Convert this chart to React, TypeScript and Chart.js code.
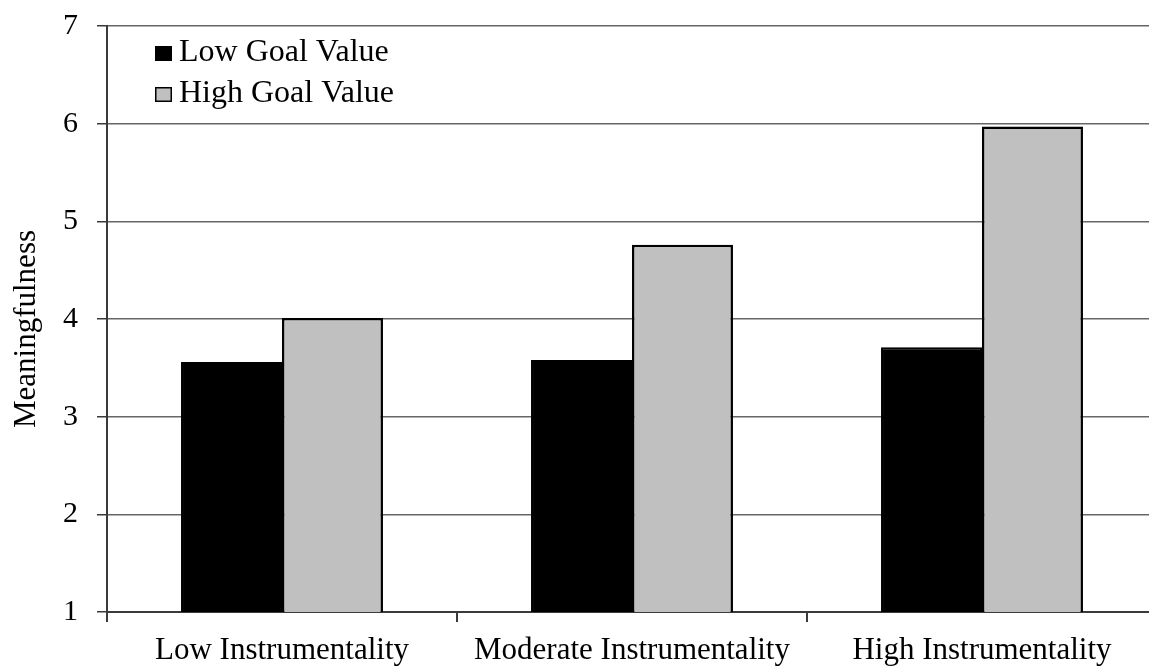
import React, { useEffect, useRef } from "react";
import { Chart, registerables } from "chart.js";

Chart.register(...registerables);

// Chart data
const categories = ["Low Instrumentality", "Moderate Instrumentality", "High Instrumentality"];
const seriesLabels = ["Low Goal Value", "High Goal Value"];
const lowGoalValue = [3.56, 3.58, 3.71];
const highGoalValue = [4.01, 4.76, 5.97];
const yMin = 1;
const yMax = 7;
const yStep = 1;
const yTitle = "Meaningfulness";

const FONT = "'Liberation Serif', 'Times New Roman', serif";
const CANVAS_W = 1180;
const CANVAS_H = 668;

// Legend drawn inside the plot area, top-left, stacked vertically
const insideLegend = {
  id: "insideLegend",
  afterDraw(chart: any) {
    const ctx = chart.ctx;
    const area = chart.chartArea;
    ctx.save();
    ctx.font = `32px ${FONT}`;
    ctx.textBaseline = "alphabetic";
    ctx.textAlign = "left";
    chart.data.datasets.forEach((ds: any, i: number) => {
      const baseline = area.top + 35 + i * 41;
      const bx = area.left + 48;
      const bw = 17;
      const bh = 15;
      ctx.fillStyle = ds.backgroundColor;
      ctx.fillRect(bx, baseline - bh, bw, bh);
      ctx.lineWidth = 1.5;
      ctx.strokeStyle = "#000";
      ctx.strokeRect(bx + 0.75, baseline - bh + 0.75, bw - 1.5, bh - 1.5);
      ctx.fillStyle = "#000";
      ctx.fillText(ds.label, bx + bw + 7, baseline);
    });
    ctx.restore();
  },
};

// Rotated y-axis title
const yAxisTitle = {
  id: "yAxisTitle",
  afterDraw(chart: any) {
    const ctx = chart.ctx;
    const area = chart.chartArea;
    ctx.save();
    ctx.font = `31px ${FONT}`;
    ctx.fillStyle = "#000";
    ctx.textAlign = "center";
    ctx.textBaseline = "middle";
    ctx.translate(26.5, (area.top + area.bottom) / 2 + 10);
    ctx.rotate(-Math.PI / 2);
    ctx.fillText(yTitle, 0, 0);
    ctx.restore();
  },
};

export default function App() {
  const canvasRef = useRef<HTMLCanvasElement | null>(null);

  useEffect(() => {
    if (!canvasRef.current) return;
    const chart = new Chart(canvasRef.current, {
      type: "bar",
      data: {
        labels: categories,
        datasets: [
          {
            label: seriesLabels[0],
            data: lowGoalValue,
            backgroundColor: "#000000",
            borderColor: "#000000",
            borderWidth: 2,
            borderSkipped: false,
          },
          {
            label: seriesLabels[1],
            data: highGoalValue,
            backgroundColor: "#c0c0c0",
            borderColor: "#000000",
            borderWidth: 2.5,
            borderSkipped: false,
          },
        ],
      },
      plugins: [insideLegend, yAxisTitle],
      options: {
        animation: false,
        responsive: false,
        maintainAspectRatio: false,
        layout: { padding: { left: 0, top: 26, right: CANVAS_W - 1157, bottom: 0 } },
        plugins: {
          legend: { display: false },
          tooltip: { enabled: false },
        },
        datasets: {
          bar: { categoryPercentage: 0.577, barPercentage: 1 },
        },
        scales: {
          x: {
            offset: true,
            grid: {
              offset: true,
              drawOnChartArea: false,
              drawTicks: true,
              tickLength: 10,
              tickColor: "#3a3a3a",
              lineWidth: 2,
            },
            border: { display: true, color: "#3a3a3a", width: 2 },
            ticks: {
              color: "#000",
              font: { family: FONT, size: 31 },
              padding: 10,
              maxRotation: 0,
              autoSkip: false,
            },
            afterFit(scale: any) {
              scale.height = CANVAS_H - 612;
              scale.paddingLeft = 0;
              scale.paddingRight = 0;
            },
          },
          y: {
            min: yMin,
            max: yMax,
            ticks: {
              stepSize: yStep,
              color: "#000",
              font: { family: FONT, size: 30 },
              padding: 19,
            },
            grid: {
              color: "#666666",
              lineWidth: 1.5,
              drawTicks: true,
              tickLength: 10,
              tickColor: "#3a3a3a",
            },
            border: { display: true, color: "#3a3a3a", width: 2 },
            afterFit(scale: any) {
              scale.width = 107;
              scale.paddingTop = 0;
              scale.paddingBottom = 0;
            },
          },
        },
      },
    });
    return () => chart.destroy();
  }, []);

  return (
    <div
      style={{
        position: "fixed",
        left: 0,
        top: 0,
        width: 1149,
        height: 668,
        overflow: "hidden",
        background: "#fff",
      }}
    >
      <canvas ref={canvasRef} width={CANVAS_W} height={CANVAS_H} style={{ display: "block" }} />
    </div>
  );
}
